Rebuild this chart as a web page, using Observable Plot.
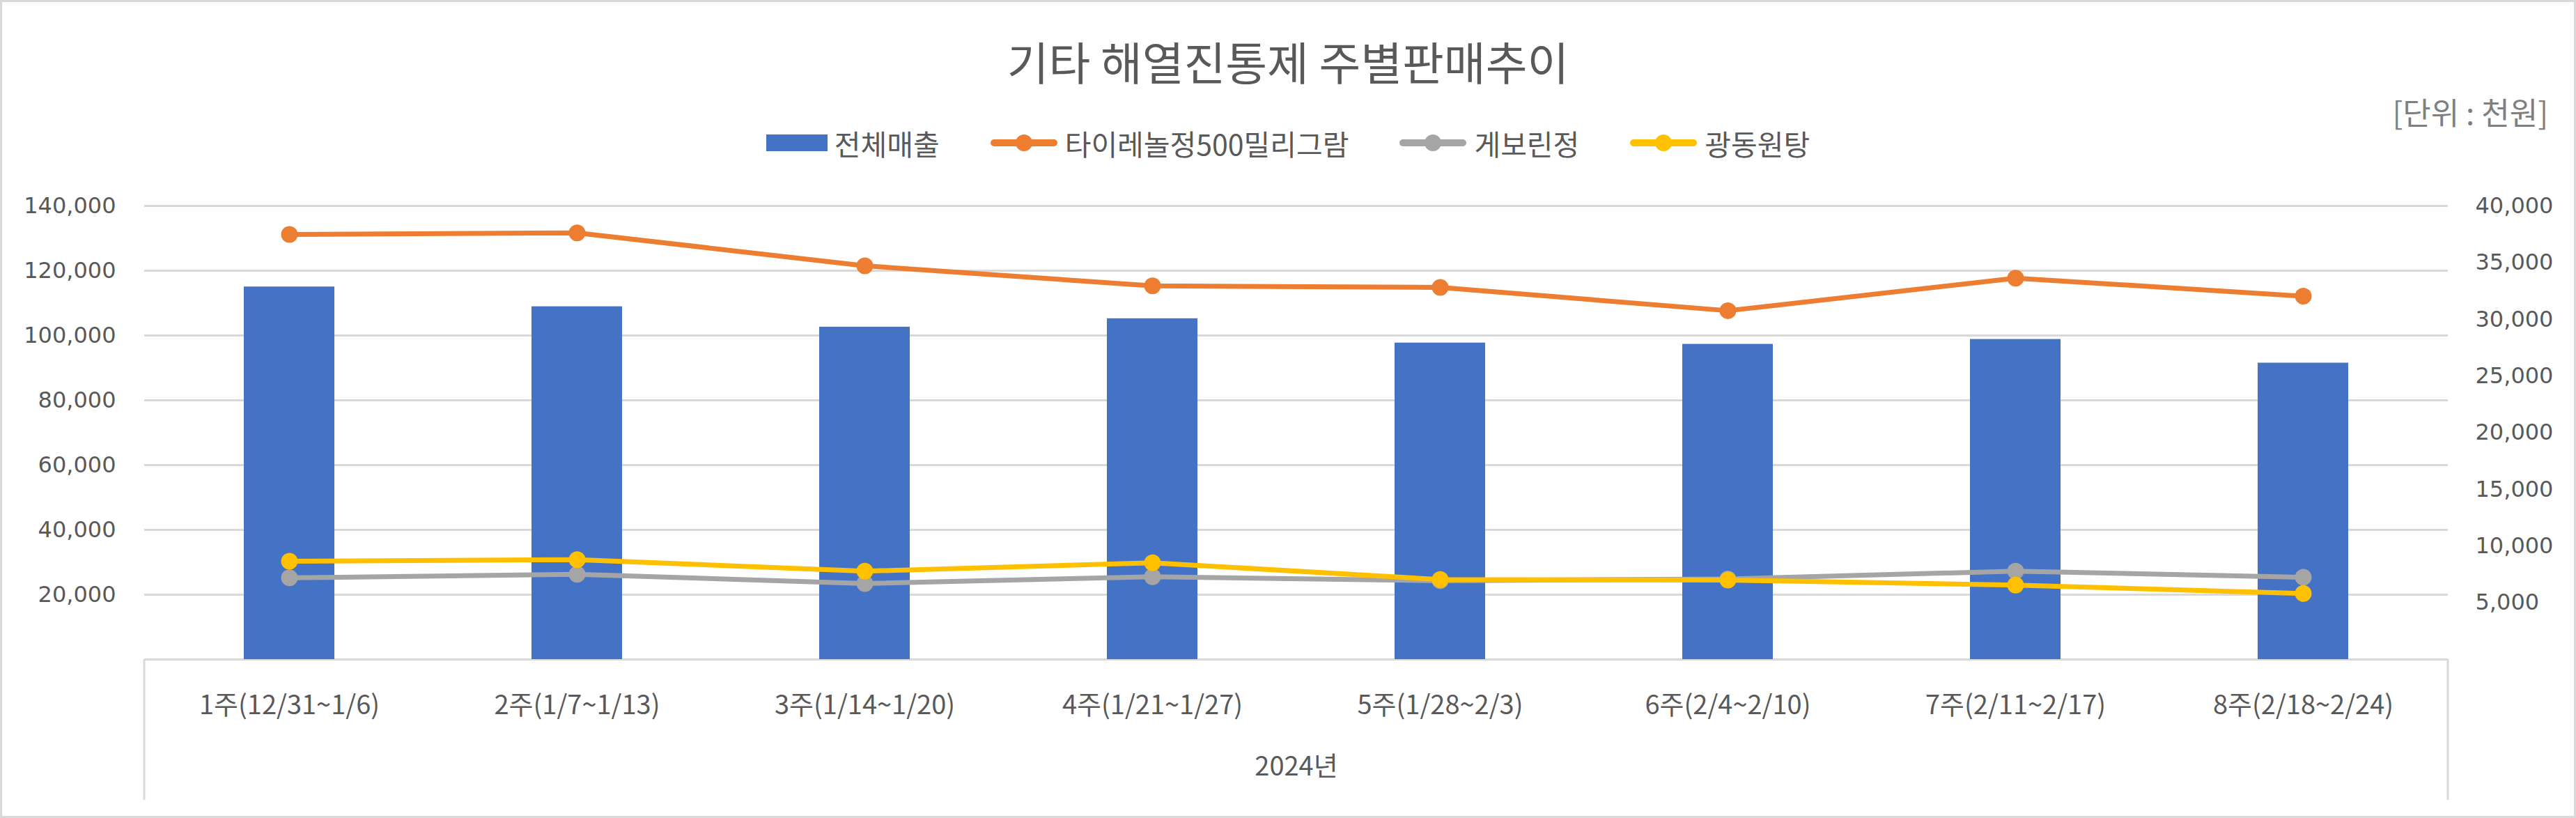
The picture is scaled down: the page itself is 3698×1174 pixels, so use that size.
<!DOCTYPE html>
<html>
<head>
<meta charset="utf-8">
<script src="https://cdn.jsdelivr.net/npm/d3@7"></script>
<script src="https://cdn.jsdelivr.net/npm/@observablehq/plot@0.6"></script>
<style>
html,body{margin:0;padding:0;background:#fff;}
#chart{position:relative;width:3698px;height:1174px;overflow:hidden;font-family:"Noto Sans CJK KR","Noto Sans",sans-serif;background:#fff;}
#title{position:absolute;left:0;right:0;top:44px;height:86px;line-height:86px;text-align:center;font-size:65px;color:#595959;white-space:nowrap;}
#unit{position:absolute;right:40px;top:134px;height:52px;line-height:52px;font-size:44px;color:#7f7f7f;white-space:nowrap;}
#legend{position:absolute;left:0;right:0;top:180px;height:50px;display:flex;justify-content:center;align-items:center;gap:72px;font-size:41px;color:#595959;white-space:nowrap;}
.item{display:flex;align-items:center;gap:10px;}
.item svg{display:block;}
#plot{position:absolute;left:0;top:255px;}
#frame{position:absolute;left:0;top:0;width:3698px;height:1174px;box-sizing:border-box;border:3px solid #d9d9d9;pointer-events:none;}
</style>
</head>
<body>
<div id="chart">
  <div id="title"></div>
  <div id="unit"></div>
  <div id="legend"></div>
  <div id="plot"></div>
  <div id="frame"></div>
</div>
<script>
// ---- data ----
const titleText = "기타 해열진통제 주별판매추이";
const unitText = "[단위 : 천원]";
const yearLabel = "2024년";
const weeks = ["1주(12/31~1/6)", "2주(1/7~1/13)", "3주(1/14~1/20)", "4주(1/21~1/27)", "5주(1/28~2/3)", "6주(2/4~2/10)", "7주(2/11~2/17)", "8주(2/18~2/24)"];
const seriesNames = ["전체매출", "타이레놀정500밀리그람", "게보린정", "광동원탕"];
const seriesColors = ["#4472C4", "#ED7D31", "#A5A5A5", "#FFC000"];
const totalSales = [115000, 108900, 102600, 105200, 97700, 97300, 98800, 91500];
const tylenol = [37480, 37620, 34720, 32950, 32810, 30760, 33630, 32040];
const geborin = [7200, 7510, 6700, 7300, 6950, 7100, 7790, 7250];
const gwangdong = [8670, 8800, 7790, 8530, 7050, 7000, 6560, 5820];
const leftTicks = [20000, 40000, 60000, 80000, 100000, 120000, 140000];
const rightTicks = [5000, 10000, 15000, 20000, 25000, 30000, 35000, 40000];
const leftMax = 140000;
const rightMax = 40000;

// ---- html text ----
document.getElementById("title").textContent = titleText;
document.getElementById("unit").textContent = unitText;
const legend = document.getElementById("legend");
seriesNames.forEach((name, i) => {
  const c = seriesColors[i];
  const item = document.createElement("div");
  item.className = "item";
  const sw = i === 0
    ? `<svg width="88" height="24"><rect width="88" height="24" fill="${c}"/></svg>`
    : `<svg width="98" height="28"><line x1="6" x2="92" y1="14" y2="14" stroke="${c}" stroke-width="10" stroke-linecap="round"/><circle cx="49" cy="14" r="12" fill="${c}"/></svg>`;
  item.innerHTML = sw + `<span>${name}</span>`;
  legend.appendChild(item);
});

// ---- tables ----
const k = leftMax / rightMax;
const barRows = weeks.map((w, i) => ({week: w, value: totalSales[i]}));
const lineSeries = [tylenol, geborin, gwangdong];
const lineRows = [];
lineSeries.forEach((arr, s) => arr.forEach((v, i) => lineRows.push({week: weeks[i], series: seriesNames[s + 1], value: v})));

const fmt = d3.format(",");
const W = 3698, H = 919;
const mL = 207, mR = W - 3514, mT = 40, mB = 228;

const boxMark = (index, scales, values, dimensions) => {
  const {width, height, marginLeft, marginRight, marginBottom} = dimensions;
  const g = d3.create("svg:g");
  const y0 = height - marginBottom;
  [marginLeft, width - marginRight].forEach(x => {
    g.append("line").attr("x1", x).attr("x2", x).attr("y1", y0).attr("y2", y0 + 202)
      .attr("stroke", "#d9d9d9").attr("stroke-width", 3);
  });
  return g.node();
};

const chart = Plot.plot({
  width: W,
  height: H,
  marginLeft: mL,
  marginRight: mR,
  marginTop: mT,
  marginBottom: mB,
  style: {fontFamily: "DejaVu Sans", color: "#595959", background: "transparent", overflow: "visible"},
  x: {domain: weeks, paddingInner: 0.6855, paddingOuter: 0.34275, align: 0.5},
  y: {domain: [0, leftMax]},
  color: {domain: seriesNames, range: seriesColors},
  marks: [
    Plot.gridY(leftTicks, {stroke: "#d9d9d9", strokeOpacity: 1, strokeWidth: 3}),
    Plot.ruleY([0], {stroke: "#d9d9d9", strokeWidth: 3}),
    boxMark,
    Plot.barY(barRows, {x: "week", y: "value", fill: seriesColors[0]}),
    Plot.line(lineRows, {x: "week", y: d => d.value * k, z: "series", stroke: "series", strokeWidth: 7, strokeLinejoin: "round", strokeLinecap: "round"}),
    Plot.dot(lineRows, {x: "week", y: d => d.value * k, fill: "series", r: 12}),
    Plot.axisY({anchor: "left", ticks: leftTicks, tickSize: 0, tickPadding: 41, tickFormat: fmt, fontSize: 32, label: null}),
    Plot.axisY({anchor: "right", ticks: rightTicks.map(v => v * k), tickSize: 0, tickPadding: 39, tickFormat: d => fmt(Math.round(d / k)), fontSize: 32, label: null}),
    Plot.axisX({tickSize: 0, tickPadding: 52, fontSize: 38, fontFamily: "Noto Sans CJK KR", label: null}),
    Plot.text([yearLabel], {text: d => d, frameAnchor: "bottom", dy: 166, fontSize: 38, fontFamily: "Noto Sans CJK KR", fill: "#595959"})
  ]
});
document.getElementById("plot").appendChild(chart);
</script>
</body>
</html>
